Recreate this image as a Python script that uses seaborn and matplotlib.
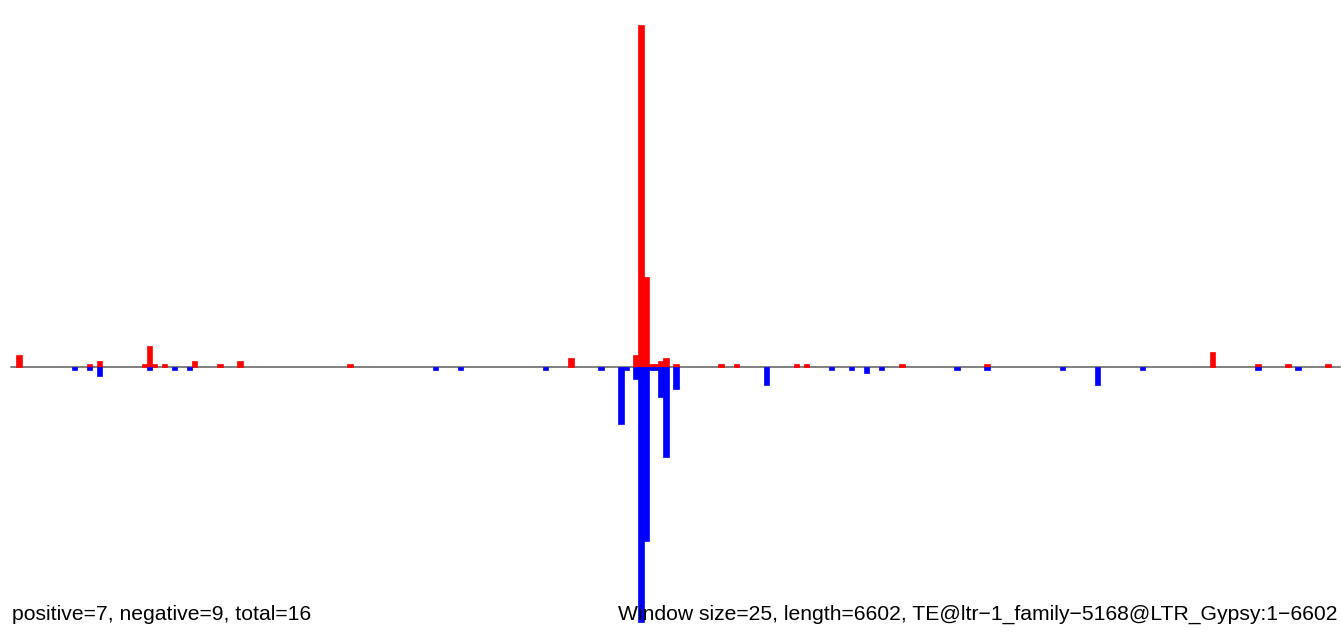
import numpy as np
import pandas as pd
import matplotlib
matplotlib.use("Agg")
import matplotlib.pyplot as plt
import seaborn as sns

# window size 25 over a 6602 bp element -> 264 windows
window_size = 25
te_length = 6602
n_windows = int(np.ceil(te_length / window_size))

# positive strand signal (window index, height)
pos_windows = [0, 14, 16, 25, 26, 27, 29, 35, 40, 44, 66, 110, 123, 124, 125,
               126, 127, 128, 129, 131, 140, 143, 155, 157, 176, 193, 238, 247, 253, 261]
pos_values = [4, 1, 2, 1, 7, 1, 1, 2, 1, 2, 1, 3, 4, 114, 30,
              1, 1, 2, 3, 1, 1, 1, 1, 1, 1, 1, 5, 1, 1, 1]

# negative strand signal (window index, depth)
neg_windows = [11, 14, 16, 26, 31, 34, 83, 88, 105, 116, 120, 121, 123, 124, 125,
               126, 127, 128, 129, 131, 149, 162, 166, 169, 172, 187, 193, 208, 215,
               224, 247, 255]
neg_values = [1, 1, 3, 1, 1, 1, 1, 1, 1, 1, 19, 1, 4, 85, 58,
              1, 1, 10, 30, 7.5, 6, 1, 1, 2, 1, 1, 1, 1, 6,
              1, 1, 1]

left_label = "positive=7, negative=9, total=16"
right_label = "Window size=25, length=6602, TE@ltr\u22121_family\u22125168@LTR_Gypsy:1\u22126602"

all_windows = list(range(n_windows))
pos_df = pd.DataFrame({"window": pos_windows, "value": pos_values})
neg_df = pd.DataFrame({"window": neg_windows, "value": -np.array(neg_values, dtype=float)})

sns.set_style("white")
plt.rcParams["font.family"] = ["Liberation Sans", "DejaVu Sans"]

fig = plt.figure(figsize=(13.41, 6.40), dpi=100)
ax = fig.add_axes([0, 0, 1, 1])

ax.axhline(0, xmin=11 / 1341, xmax=1340 / 1341, color="#7f7f7f", lw=1.4, zorder=0)

sns.barplot(data=pos_df, x="window", y="value", order=all_windows, color="#ff0000",
            saturation=1, width=1.1, errorbar=None, linewidth=0.5,
            edgecolor="#ff0000", ax=ax)
sns.barplot(data=neg_df, x="window", y="value", order=all_windows, color="#0000ff",
            saturation=1, width=1.1, errorbar=None, linewidth=0.5,
            edgecolor="#0000ff", ax=ax)

# pixel mapping: bar i left edge ~ 16 + 5.015*i px
px_per_win = 5.015
x0 = 16.4 + 0.55 * px_per_win
ax.set_xlim(-x0 / px_per_win, (1341 - x0) / px_per_win)
base_px = 366.7
ax.set_ylim(-(640 - base_px) / 3.0, base_px / 3.0)
ax.axis("off")

fig.text(12 / 1341, 1 - 620 / 640, left_label, fontsize=15.2, color="black",
         va="baseline", ha="left")
fig.text(1338 / 1341, 1 - 620 / 640, right_label, fontsize=15.2, color="black",
         va="baseline", ha="right")

fig.savefig("out.png", dpi=100)
plt.close(fig)
